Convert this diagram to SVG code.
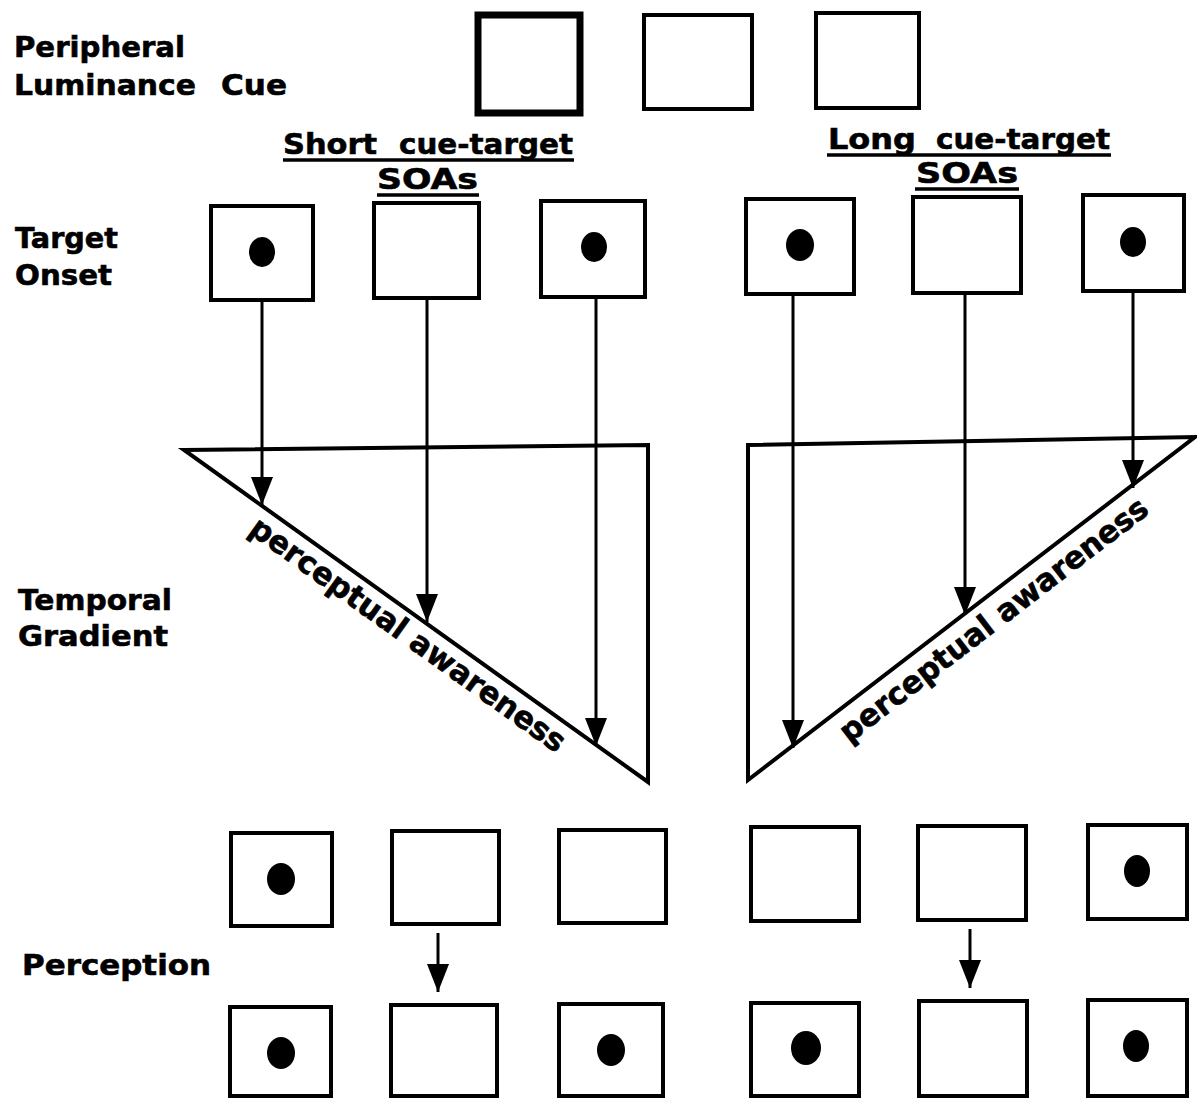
<svg xmlns="http://www.w3.org/2000/svg" width="1197" height="1098" viewBox="0 0 1197 1098">
<style>
.lbl{font-family:"DejaVu Sans","Liberation Sans",Arial,sans-serif;font-weight:bold;font-size:29px;fill:#000;stroke:#000;stroke-width:0.6}
.rot{font-family:"DejaVu Sans","Liberation Sans",Arial,sans-serif;font-weight:bold;font-size:31px;fill:#000;stroke:#000;stroke-width:0.6}
.box{fill:#fff;stroke:#000;stroke-width:4}
.dot{fill:#000}
.conn{stroke:#000;stroke-width:3;fill:none}
.tri{stroke:#000;stroke-width:4;fill:none;stroke-linejoin:miter}
.ul{stroke:#000;stroke-width:3.5}
</style>
<defs>
<marker id="arr" markerWidth="28" markerHeight="22" refX="28" refY="11" orient="auto" markerUnits="userSpaceOnUse" viewBox="0 0 28 22">
<path d="M0,0 L28,11 L0,22 Z" fill="#000"/>
</marker>
</defs>
<rect width="1197" height="1098" fill="#fff"/>

<g id="row-labels">
<text class="lbl" x="14" y="57" textLength="171" lengthAdjust="spacingAndGlyphs">Peripheral</text>
<text class="lbl" x="14" y="95" textLength="182" lengthAdjust="spacingAndGlyphs">Luminance</text>
<text class="lbl" x="221" y="95" textLength="66" lengthAdjust="spacingAndGlyphs">Cue</text>
<text class="lbl" x="15" y="248" textLength="103" lengthAdjust="spacingAndGlyphs">Target</text>
<text class="lbl" x="15" y="285" textLength="97" lengthAdjust="spacingAndGlyphs">Onset</text>
<text class="lbl" x="18" y="610" textLength="154" lengthAdjust="spacingAndGlyphs">Temporal</text>
<text class="lbl" x="18" y="646" textLength="150" lengthAdjust="spacingAndGlyphs">Gradient</text>
<text class="lbl" x="22" y="975" textLength="189" lengthAdjust="spacingAndGlyphs">Perception</text>
</g>

<g id="short-soa-label">
<text class="lbl" x="283" y="154" textLength="94" lengthAdjust="spacingAndGlyphs">Short</text>
<text class="lbl" x="399" y="154" textLength="174" lengthAdjust="spacingAndGlyphs">cue-target</text>
<line class="ul" x1="283" y1="160" x2="574" y2="160"/>
<text class="lbl" x="377" y="189" textLength="101" lengthAdjust="spacingAndGlyphs">SOAs</text>
<line class="ul" x1="377" y1="195" x2="479" y2="195"/>
</g>
<g id="long-soa-label">
<text class="lbl" x="828" y="149" textLength="88" lengthAdjust="spacingAndGlyphs">Long</text>
<text class="lbl" x="936" y="149" textLength="174" lengthAdjust="spacingAndGlyphs">cue-target</text>
<line class="ul" x1="827" y1="155" x2="1111" y2="155"/>
<text class="lbl" x="916" y="183" textLength="102" lengthAdjust="spacingAndGlyphs">SOAs</text>
<line class="ul" x1="915" y1="189" x2="1019" y2="189"/>
</g>

<g id="cue1"><rect x="478" y="15" width="102" height="98" fill="#fff" stroke="#000" stroke-width="7"/></g>
<g id="cue2"><rect class="box" x="644" y="15" width="108" height="94"/></g>
<g id="cue3"><rect class="box" x="816" y="13" width="103" height="95"/></g>

<g id="t1"><rect class="box" x="211" y="206" width="102" height="94"/><ellipse class="dot" cx="262" cy="252" rx="13" ry="15"/></g>
<g id="t2"><rect class="box" x="374" y="203" width="105" height="95"/></g>
<g id="t3"><rect class="box" x="541" y="201" width="104" height="96"/><ellipse class="dot" cx="594" cy="247" rx="13" ry="15"/></g>
<g id="t4"><rect class="box" x="746" y="199" width="108" height="95"/><ellipse class="dot" cx="800" cy="245" rx="14" ry="16"/></g>
<g id="t5"><rect class="box" x="913" y="197" width="108" height="96"/></g>
<g id="t6"><rect class="box" x="1083" y="195" width="101" height="96"/><ellipse class="dot" cx="1133" cy="242" rx="13" ry="15"/></g>

<g id="gradient-short">
<path class="tri" d="M184,450 L648,445 L648,782 Z"/>
<text class="rot" transform="translate(402,643) rotate(35.6)" text-anchor="middle" textLength="380" lengthAdjust="spacingAndGlyphs">perceptual awareness</text>
</g>
<g id="gradient-long">
<path class="tri" d="M748,445 L1195,437 L748,780 Z"/>
<text class="rot" transform="translate(1000,628) rotate(-37.5)" text-anchor="middle" textLength="380" lengthAdjust="spacingAndGlyphs">perceptual awareness</text>
</g>

<g id="p1"><rect class="box" x="231" y="833" width="101" height="93"/><ellipse class="dot" cx="281" cy="879" rx="14" ry="16"/></g>
<g id="p2"><rect class="box" x="392" y="831" width="107" height="93"/></g>
<g id="p3"><rect class="box" x="559" y="830" width="107" height="93"/></g>
<g id="p4"><rect class="box" x="751" y="827" width="108" height="94"/></g>
<g id="p5"><rect class="box" x="918" y="826" width="108" height="94"/></g>
<g id="p6"><rect class="box" x="1088" y="825" width="99" height="94"/><ellipse class="dot" cx="1137" cy="871" rx="13" ry="16"/></g>

<g id="q1"><rect class="box" x="230" y="1007" width="101" height="89"/><ellipse class="dot" cx="281" cy="1053" rx="14" ry="16"/></g>
<g id="q2"><rect class="box" x="391" y="1005" width="106" height="91"/></g>
<g id="q3"><rect class="box" x="559" y="1004" width="104" height="92"/><ellipse class="dot" cx="611" cy="1050" rx="14" ry="16"/></g>
<g id="q4"><rect class="box" x="751" y="1003" width="108" height="93"/><ellipse class="dot" cx="806" cy="1048" rx="15" ry="17"/></g>
<g id="q5"><rect class="box" x="919" y="1001" width="108" height="95"/></g>
<g id="q6"><rect class="box" x="1088" y="1000" width="99" height="96"/><ellipse class="dot" cx="1136" cy="1046" rx="13" ry="16"/></g>

<g id="connectors">
<line class="conn" x1="262" y1="300" x2="262" y2="505" marker-end="url(#arr)"/>
<line class="conn" x1="427" y1="298" x2="427" y2="622" marker-end="url(#arr)"/>
<line class="conn" x1="596" y1="297" x2="596" y2="746" marker-end="url(#arr)"/>
<line class="conn" x1="793" y1="294" x2="793" y2="748" marker-end="url(#arr)"/>
<line class="conn" x1="965" y1="293" x2="965" y2="615" marker-end="url(#arr)"/>
<line class="conn" x1="1133" y1="291" x2="1133" y2="488" marker-end="url(#arr)"/>
<line class="conn" x1="438" y1="933" x2="438" y2="992" marker-end="url(#arr)"/>
<line class="conn" x1="970" y1="929" x2="970" y2="988" marker-end="url(#arr)"/>
</g>
</svg>
